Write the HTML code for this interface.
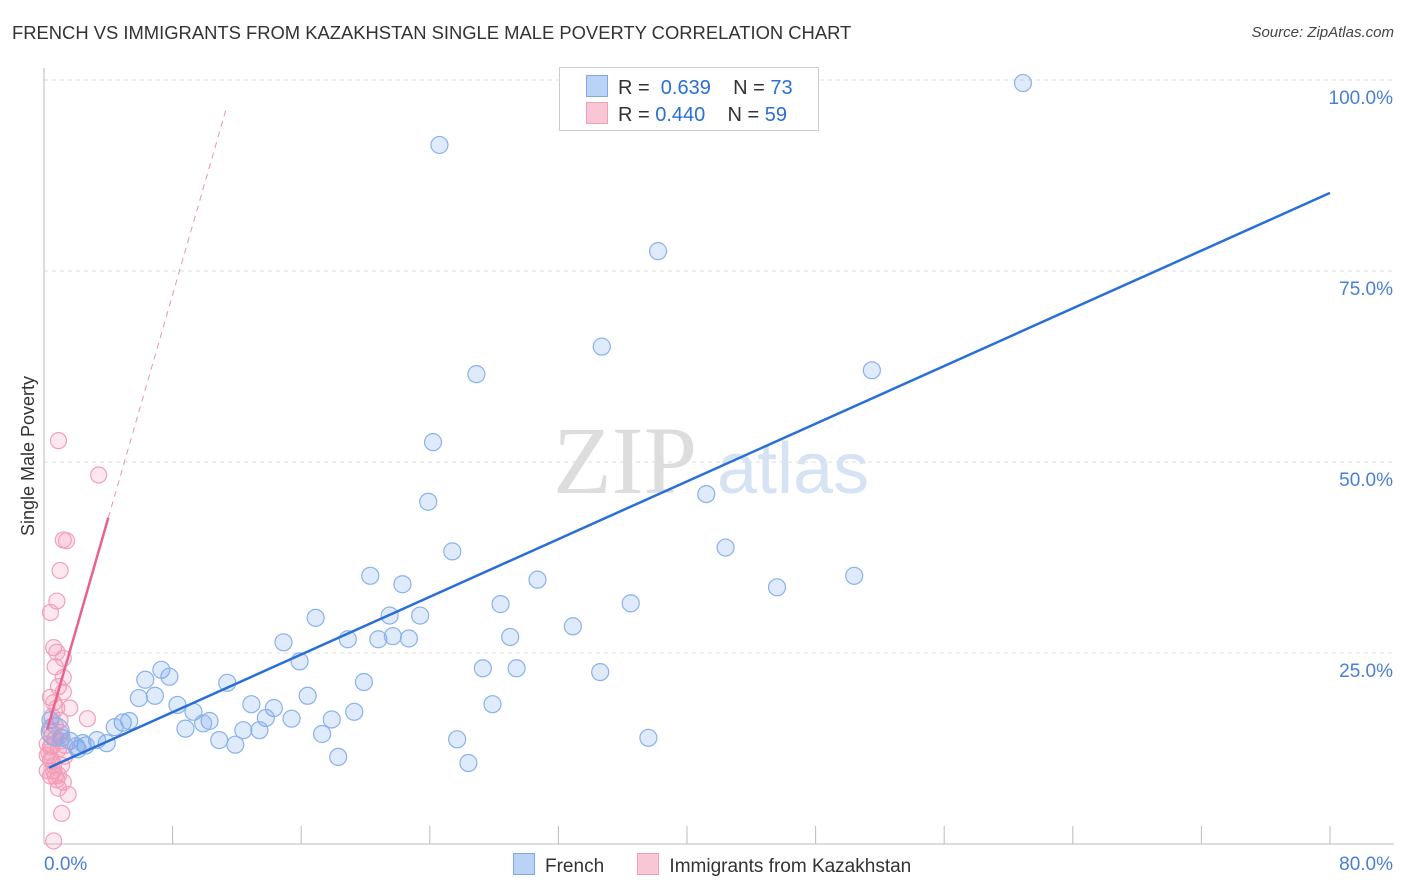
<!DOCTYPE html>
<html><head><meta charset="utf-8">
<style>
body{margin:0;background:#fff;font-family:"Liberation Sans",sans-serif;}
#wrap{position:relative;width:1406px;height:892px;overflow:hidden;}
.t{position:absolute;white-space:nowrap;}
</style></head>
<body>
<div id="wrap">
<div class="t" style="left:12px;top:22px;font-size:18.4px;color:#333;">FRENCH VS IMMIGRANTS FROM KAZAKHSTAN SINGLE MALE POVERTY CORRELATION CHART</div>
<div class="t" style="right:12px;top:24px;font-size:15px;color:#444;font-style:italic;">Source: ZipAtlas.com</div>
<svg id="svg" width="1406" height="892" style="position:absolute;left:0;top:0"></svg>
</div>
<script>
const xTicks=[0,80];
const yTicks=[25,50,75,100];
const frenchX=[33.7,60.9,24.6,38.2,34.7,26.9,51.5,24.2,41.2,23.9,25.4,42.4,20.3,22.3,30.7,45.6,50.4,36.5,28.4,21.5,23.4,16.9,32.9,29.0,18.9,20.8,21.7,22.7,14.9,15.9,27.3,29.4,34.6,7.3,6.3,7.8,19.9,11.4,5.9,6.9,16.4,12.9,8.3,14.3,27.9,9.3,19.3,13.8,15.4,17.9,4.9,5.3,10.3,9.9,4.4,8.8,12.4,13.4,17.3,25.7,37.6,10.9,11.9,3.9,3.3,2.6,1.6,1.1,2.1,18.3,26.4,0.7,0.4,2.0,2.4];
const frenchY=[99.6,99.6,91.5,77.6,65.1,61.5,62.0,52.6,45.8,44.8,38.3,38.8,35.1,34.0,34.6,33.6,35.1,31.5,31.4,29.9,29.9,29.6,28.5,27.1,26.8,26.8,27.2,26.9,26.4,23.9,23.0,23.0,22.5,22.8,21.5,21.9,21.2,21.1,19.1,19.4,19.4,18.3,18.2,17.8,18.3,17.3,17.3,16.5,16.4,16.3,15.9,16.1,16.1,15.8,15.3,15.1,14.9,14.9,14.4,13.7,13.9,13.6,13.0,13.2,13.6,12.9,13.5,13.9,12.4,11.4,10.6,14.7,16.2,12.8,13.2];
const kazX=[0.9,3.4,1.2,1.4,1.0,0.8,0.4,0.6,0.8,1.2,0.7,1.2,0.9,1.2,0.4,0.6,0.8,1.6,2.7,0.5,1.0,0.4,0.7,1.0,1.3,0.5,0.2,0.9,0.4,1.1,0.6,0.7,0.4,0.8,1.2,0.9,1.5,1.1,0.6,0.2,0.5,0.7,1.0,0.2,0.5,0.3,0.6,0.9,1.3,0.4];
const kazY=[52.8,48.3,39.8,39.7,35.8,31.8,30.3,25.7,25.1,24.3,23.2,21.8,20.6,19.9,19.2,18.5,17.8,17.8,16.4,16.7,16.2,14.9,13.8,13.5,12.9,12.9,11.6,12.4,11.0,10.3,9.6,8.9,8.9,8.4,8.1,7.3,6.5,4.0,0.4,13.1,14.2,15.5,14.6,9.6,11.0,12.0,10.3,9.0,11.5,12.7];
const X=v=>44+v/80*1286, Y=v=>844-v/25*191;
const svg=document.getElementById('svg');const NS='http://www.w3.org/2000/svg';
function mk(t,a,p){const e=document.createElementNS(NS,t);for(const k in a)e.setAttribute(k,a[k]);(p||svg).appendChild(e);return e;}
yTicks.forEach(v=>{const l=mk('line',{x1:44,x2:1394,y1:Y(v),y2:Y(v),stroke:'#ddd','stroke-dasharray':'4,4'});

const t=mk('text',{x:1393,y:Y(v)+24,'text-anchor':'end','font-size':19,fill:'#4a7fd6'});t.textContent=v.toFixed(1)+'%';
});
mk('line',{x1:44,x2:44,y1:68,y2:844,stroke:'#bbb'});
mk('line',{x1:44,x2:1394,y1:844,y2:844,stroke:'#bbb'});
for(let i=1;i<=10;i++){const tk=mk('line',{x1:X(i*8),x2:X(i*8),y1:826,y2:844,stroke:'#bbb'});}
xTicks.forEach((v,i)=>{const t=mk('text',{x:i?1393:44,y:870,'text-anchor':i?'end':'start','font-size':19,fill:'#4a7fd6'});t.textContent=v.toFixed(1)+'%';});
const w=mk('text',{x:553,y:493,'font-size':96,fill:'#ddd','font-family':'Liberation Serif'});w.textContent='ZIP';
const w2=mk('text',{x:717,y:493,'font-size':72,fill:'#d5e3f5'});w2.textContent='atlas';
const yt=mk('text',{x:0,y:0,'font-size':18,fill:'#333','text-anchor':'middle',transform:'translate(34,456) rotate(-90)'});yt.textContent='Single Male Poverty';
kazX.forEach((x,i)=>{const c=mk('circle',{cx:X(x),cy:Y(kazY[i]),r:8,fill:'rgba(245,150,180,0.22)',stroke:'#f2a0b9','stroke-width':1.2});});
frenchX.forEach((x,i)=>{const c=mk('circle',{cx:X(x),cy:Y(frenchY[i]),r:i==frenchX.length-4?14:8.5,fill:'rgba(110,160,235,0.22)',stroke:'#8ab2ea','stroke-width':1.2});});
const fb=9.7,fm=0.944;
const bl=mk('line',{x1:X(0.3),y1:Y(fb+fm*0.3),x2:X(80),y2:Y(fb+fm*80),stroke:'#2a6fd6','stroke-width':2.5});
const kb=13.5,km=7.3;
const pd=mk('line',{x1:X(4),y1:Y(kb+km*4),x2:X(11.4),y2:Y(kb+km*11.4),stroke:'#e994ae','stroke-width':1,'stroke-dasharray':'6,5'});
const pl=mk('line',{x1:X(0.2),y1:Y(kb+km*0.2),x2:X(4),y2:Y(kb+km*4),stroke:'#e8628d','stroke-width':2.5});
</script>
<div style="position:absolute;left:559px;top:67px;width:258px;height:62px;border:1px solid #ccc;background:#fff;font-size:20px;color:#333;">
 <div style="position:absolute;left:26px;top:7px;white-space:nowrap;"><span style="display:inline-block;width:20px;height:20px;background:#b9d2f5;border:1px solid #7fa9e6;vertical-align:-3px;margin-right:10px"></span>R = &nbsp;<span style="color:#2a6fd6">0.639</span>&nbsp;&nbsp;&nbsp; N = <span style="color:#2a6fd6">73</span></div>
 <div style="position:absolute;left:26px;top:34px;white-space:nowrap;"><span style="display:inline-block;width:20px;height:20px;background:#f9c6d5;border:1px solid #f2a0b9;vertical-align:-3px;margin-right:10px"></span>R = <span style="color:#2a6fd6">0.440</span>&nbsp;&nbsp;&nbsp; N = <span style="color:#2a6fd6">59</span></div>
</div>
<div style="position:absolute;left:513px;top:853px;font-size:19px;color:#333;white-space:nowrap;">
 <span><span style="display:inline-block;width:20px;height:20px;background:#b9d2f5;border:1px solid #7fa9e6;vertical-align:-3px;margin-right:10px"></span>French</span>
 <span style="margin-left:28px"><span style="display:inline-block;width:20px;height:20px;background:#f9c6d5;border:1px solid #f2a0b9;vertical-align:-3px;margin-right:10px"></span>Immigrants from Kazakhstan</span>
</div>
</body></html>
